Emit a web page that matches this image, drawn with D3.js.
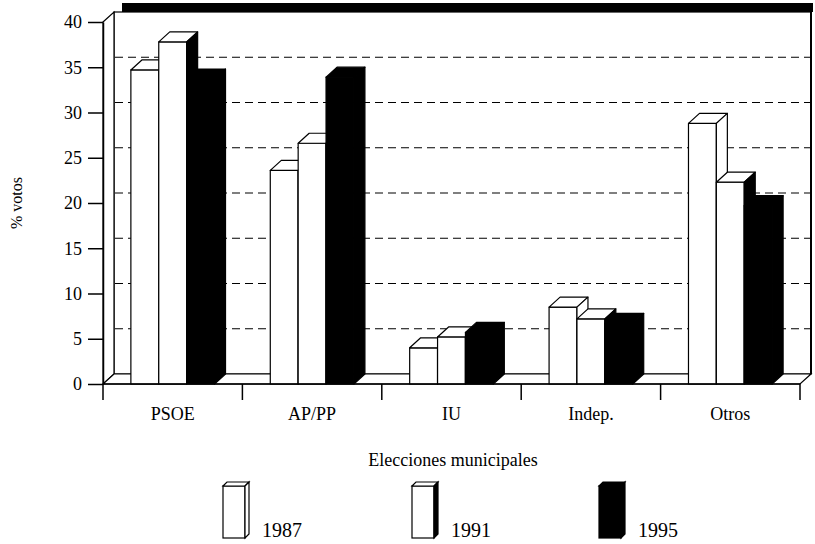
<!DOCTYPE html>
<html>
<head>
<meta charset="utf-8">
<script src="https://cdn.jsdelivr.net/npm/d3@7"></script>
<style>
  html, body { margin: 0; padding: 0; background: #fff; }
  svg { display: block; }
  text { font-family: "Liberation Serif", "DejaVu Serif", serif; fill: #000; }
</style>
</head>
<body>
<svg id="chart" width="815" height="544"></svg>
<script>
const categories = ["PSOE", "AP/PP", "IU", "Indep.", "Otros"];
const years = ["1987", "1991", "1995"];
const votes1987 = [34.7, 23.6, 4.0, 8.5, 28.8];
const votes1991 = [37.8, 26.6, 5.2, 7.2, 22.3];
const votes1995 = [33.7, 33.9, 5.7, 6.7, 19.7];
const yTicks = [0, 5, 10, 15, 20, 25, 30, 35, 40];
const gridValues = [5, 10, 15, 20, 25, 30, 35];

const series = [votes1987, votes1991, votes1995];
// front / top / side fill for each year
const faceFills = [
    ["#fff", "#fff", "#fff"],
    ["#fff", "#fff", "#000"],
    ["#000", "#000", "#000"]
];

const svg = d3.select("#chart");
const depth = { dx: 11, dy: -10 };

const x = d3.scaleBand().domain(categories).range([103, 800]).padding(0);
const y = d3.scaleLinear().domain([0, 40]).range([384, 22]);

const x0 = x.range()[0], x1 = x.range()[1];
const yBase = y(0), yTop = y(40);

// black band over the back wall
svg.append("rect")
    .attr("x", x0 + 19).attr("y", yTop + depth.dy - 9)
    .attr("width", x1 + depth.dx + 2 - (x0 + 19)).attr("height", 9)
    .attr("fill", "#000");

// back wall
svg.append("rect")
    .attr("x", x0 + depth.dx).attr("y", yTop + depth.dy)
    .attr("width", x1 - x0).attr("height", yBase - yTop)
    .attr("fill", "#fff").attr("stroke", "#000").attr("stroke-width", 1.2);
svg.append("line")
    .attr("x1", x1 + depth.dx).attr("x2", x1 + depth.dx)
    .attr("y1", yTop + depth.dy).attr("y2", yBase + depth.dy)
    .attr("stroke", "#000").attr("stroke-width", 2);

// left wall
svg.append("polygon")
    .attr("points", [[x0, yTop], [x0 + depth.dx, yTop + depth.dy], [x0 + depth.dx, yBase + depth.dy], [x0, yBase]].join(" "))
    .attr("fill", "#fff").attr("stroke", "#000").attr("stroke-width", 1.2);

// floor
svg.append("polygon")
    .attr("points", [[x0, yBase], [x0 + depth.dx, yBase + depth.dy], [x1 + depth.dx, yBase + depth.dy], [x1, yBase]].join(" "))
    .attr("fill", "#fff").attr("stroke", "#000").attr("stroke-width", 1.2);

// dashed grid on the back wall
svg.append("g").selectAll("line")
    .data(gridValues)
    .enter().append("line")
    .attr("x1", x0 + depth.dx + 1).attr("x2", x1 + depth.dx)
    .attr("y1", d => y(d) + depth.dy).attr("y2", d => y(d) + depth.dy)
    .attr("stroke", "#000").attr("stroke-width", 1.2)
    .attr("stroke-dasharray", "8,5");

// bars, drawn left to right so each hides its neighbour's side face
const bw = x.bandwidth() * 0.2;
const bars = [];
categories.forEach((c, ci) => {
    series.forEach((vals, si) => {
        bars.push({ cat: c, s: si, v: vals[ci] });
    });
});

const barG = svg.append("g");
bars.forEach(d => {
    const bx = x(d.cat) + bw + d.s * bw;
    const ty = y(d.v);
    const fills = faceFills[d.s];
    const g = barG.append("g").attr("stroke", "#000").attr("stroke-width", 1.2).attr("stroke-linejoin", "round");
    g.append("rect")
        .attr("x", bx).attr("y", ty).attr("width", bw).attr("height", yBase - ty)
        .attr("fill", fills[0]);
    g.append("polygon")
        .attr("points", [[bx, ty], [bx + depth.dx, ty + depth.dy], [bx + bw + depth.dx, ty + depth.dy], [bx + bw, ty]].join(" "))
        .attr("fill", fills[1]);
    g.append("polygon")
        .attr("points", [[bx + bw, ty], [bx + bw + depth.dx, ty + depth.dy], [bx + bw + depth.dx, yBase + depth.dy], [bx + bw, yBase]].join(" "))
        .attr("fill", fills[2]);
});

// y axis
const yAxis = svg.append("g")
    .attr("transform", `translate(${x0},0)`)
    .call(d3.axisLeft(y).tickValues(yTicks).tickSize(15).tickSizeOuter(0).tickPadding(6));
yAxis.select(".domain").attr("stroke", "#000").attr("stroke-width", 1.5);
yAxis.selectAll(".tick line").attr("stroke", "#000").attr("stroke-width", 1.5);
yAxis.selectAll(".tick text")
    .attr("font-family", "Liberation Serif, DejaVu Serif, serif")
    .attr("font-size", 18).attr("fill", "#000");

// x axis: front floor edge, ticks at band edges, labels centred
svg.append("line")
    .attr("x1", x0).attr("x2", x1).attr("y1", yBase).attr("y2", yBase)
    .attr("stroke", "#000").attr("stroke-width", 1.5);
const edges = categories.map(c => x(c)).concat([x1]);
svg.append("g").selectAll("line")
    .data(edges)
    .enter().append("line")
    .attr("x1", d => d).attr("x2", d => d)
    .attr("y1", yBase).attr("y2", yBase + 16)
    .attr("stroke", "#000").attr("stroke-width", 1.5);
svg.append("g").selectAll("text")
    .data(categories)
    .enter().append("text")
    .attr("x", d => x(d) + x.bandwidth() / 2)
    .attr("y", 420)
    .attr("text-anchor", "middle")
    .attr("font-size", 18)
    .text(d => d);

// axis titles
svg.append("text")
    .attr("transform", "translate(22,203) rotate(-90)")
    .attr("text-anchor", "middle")
    .attr("font-size", 16)
    .text("% votos");
svg.append("text")
    .attr("x", 453).attr("y", 466)
    .attr("text-anchor", "middle")
    .attr("font-size", 18)
    .text("Elecciones municipales");

// legend
const legendX = [223, 412, 599];
const legend = svg.append("g");
years.forEach((yr, i) => {
    const lx = legendX[i], ly = 486, lw = 22, lh = 52, ld = 4;
    const fills = faceFills[i];
    const g = legend.append("g").attr("stroke", "#000").attr("stroke-width", 1.2);
    g.append("rect").attr("x", lx).attr("y", ly).attr("width", lw).attr("height", lh).attr("fill", fills[0]);
    g.append("polygon")
        .attr("points", [[lx, ly], [lx + ld, ly - ld], [lx + lw + ld, ly - ld], [lx + lw, ly]].join(" "))
        .attr("fill", fills[1]);
    g.append("polygon")
        .attr("points", [[lx + lw, ly], [lx + lw + ld, ly - ld], [lx + lw + ld, ly + lh - ld], [lx + lw, ly + lh]].join(" "))
        .attr("fill", fills[2]);
    legend.append("text")
        .attr("x", lx + lw + 17).attr("y", 537)
        .attr("font-size", 20)
        .text(yr);
});
</script>
</body>
</html>
